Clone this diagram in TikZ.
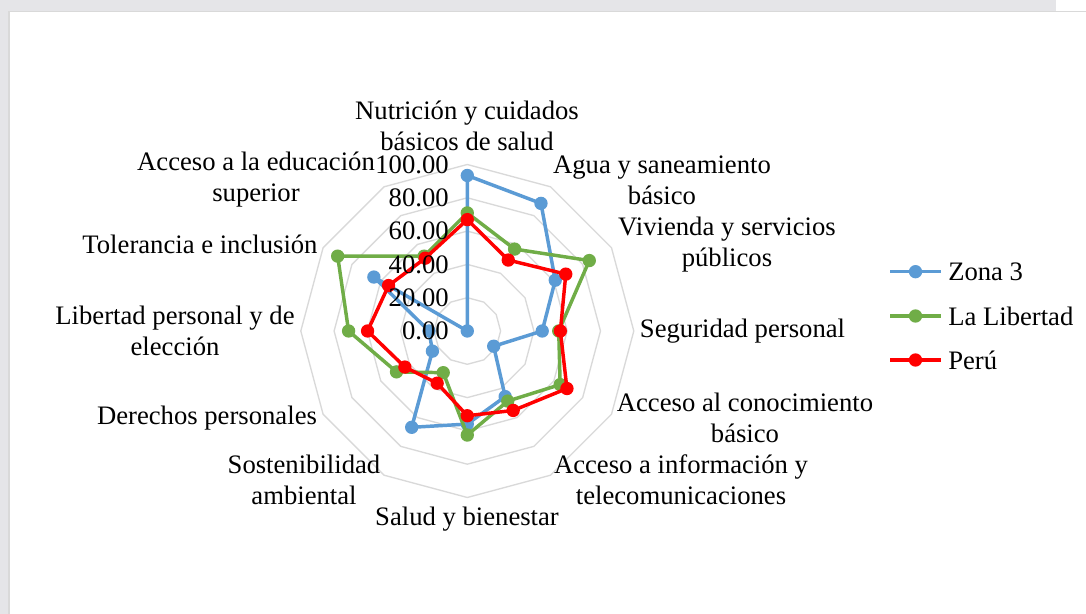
\documentclass[tikz,border=0pt]{standalone}
\usepackage{fontspec}
\setmainfont{Liberation Serif}
\usepackage{xcolor}
\usepackage{tikz}
\usetikzlibrary{positioning}
\definecolor{zonablue}{RGB}{91, 155, 213}
\definecolor{libgreen}{RGB}{112, 173, 71}
\definecolor{perured}{RGB}{255, 0, 0}
\definecolor{ringgray}{RGB}{217, 217, 217}
\definecolor{bandgray}{RGB}{229, 229, 232}

\begin{document}
\begin{tikzpicture}[x=0.75pt, y=0.75pt,
  every node/.style={font=\fontsize{20}{23.25}\selectfont, inner sep=0pt},
  ring/.style={ringgray, line width=1pt},
  series/.style={line width=2.6pt, line join=round},
  dotmark/.style={circle, fill=#1, minimum size=10pt, inner sep=0pt},
  catlabel/.style={align=center}]
\useasboundingbox (0,0) rectangle (1086,614);

% Frame
\fill[bandgray] (0,0) rectangle (1086,614);
\fill[white] (9,0) rectangle (1086,602.5);
\fill[white] (1056,602.5) rectangle (1086,614);
\draw[gray!30, line width=1pt] (9,0) -- (9,602.5) -- (1086,602.5);

\begin{scope}[shift={(467.3,283)}, x=1.24875pt, y=1.24875pt]
% Rings
\foreach \r in {20,40,...,100}
  \draw[ring] (90:\r) \foreach \a in {60,30,...,-240} {-- (\a:\r)} -- cycle;

% Zona 3
\foreach \v [count=\i from 0] in {93.4,88.5,61,45,18.3,45.5,55.9,66.8,24.2,23,64.8,0}
  \coordinate (z\i) at ({90-30*\i}:\v);
\draw[series, zonablue] (z0) \foreach \i in {1,...,11} {-- (z\i)} -- cycle;
\foreach \i in {0,...,11} \node[dotmark=zonablue] (zd\i) at (z\i) {};

% La Libertad
\foreach \v [count=\i from 0] in {70.9,56.8,84.6,54.9,64.4,48.6,62.5,28.9,49.1,71.3,89.9,51.9}
  \coordinate (l\i) at ({90-30*\i}:\v);
\draw[series, libgreen] (l0) \foreach \i in {1,...,11} {-- (l\i)} -- cycle;
\foreach \i in {0,...,11} \node[dotmark=libgreen] (ld\i) at (l\i) {};

% Peru
\foreach \v [count=\i from 0] in {66.9,49.2,68.3,55.9,69.1,55.1,50.9,36.2,43.3,59.9,54.6,50.5}
  \coordinate (p\i) at ({90-30*\i}:\v);
\draw[series, perured] (p0) \foreach \i in {1,...,11} {-- (p\i)} -- cycle;
\foreach \i in {0,...,11} \node[dotmark=perured] (pd\i) at (p\i) {};

% Axis values
\foreach \v in {0,20,...,100}
  \node[anchor=east] (tick\v) at (-11,\v) {\v.00};
\end{scope}

% Labels
\node[catlabel] (nutri) at (467,488.5) {Nutrición y cuidados\\básicos de salud};
\node[catlabel] (agua) at (662,434) {Agua y saneamiento\\básico};
\node[catlabel] (vivienda) at (727,369) {Vivienda y servicios\\públicos};
\node[catlabel] (seguridad) at (742.5,283) {Seguridad personal};
\node[catlabel] (conocimiento) at (745,196) {Acceso al conocimiento\\básico};
\node[catlabel] (informacion) at (681,134) {Acceso a información y\\telecomunicaciones};
\node[catlabel] (salud) at (467,95) {Salud y bienestar};
\node[catlabel] (sostenible) at (304,134) {Sostenibilidad\\ambiental};
\node[catlabel] (derechos) at (207,196) {Derechos personales};
\node[catlabel] (libertad) at (175,283) {Libertad personal y de\\elección};
\node[catlabel] (tolerancia) at (200,370) {Tolerancia e inclusión};
\node[catlabel] (educacion) at (256,434) {Acceso a la educación\\superior};

% Legend
\coordinate (zl) at (890,342.3); \coordinate (zr) at (941,342.3);
\draw[series, zonablue] (zl) -- (zr);
\node[dotmark=zonablue] (zk) at (915.5,342.3) {};
\node[right=5.25pt of zr] (zt) {Zona 3};

\coordinate (ll) at (890,298); \coordinate (lr) at (941,298);
\draw[series, libgreen] (ll) -- (lr);
\node[dotmark=libgreen] (lk) at (915.5,298) {};
\node[right=5.25pt of lr] (lt) {La Libertad};

\coordinate (pl) at (890,254); \coordinate (pr) at (941,254);
\draw[series, perured] (pl) -- (pr);
\node[dotmark=perured] (pk) at (915.5,254) {};
\node[right=5.25pt of pr] (pt) {Perú};
\end{tikzpicture}
\end{document}
